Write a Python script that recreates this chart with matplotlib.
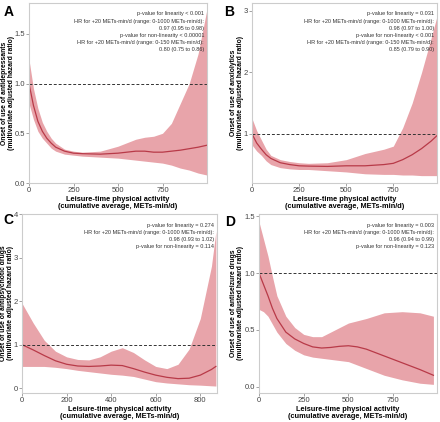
import numpy as np
import matplotlib
matplotlib.use('Agg')
import matplotlib.pyplot as plt

plt.rcParams['font.family'] = ['Liberation Sans', 'DejaVu Sans']

W, H = 440, 422

# panel A - antidepressants
a_x = [0, 25, 50, 75, 100, 125, 150, 200, 250, 300, 400, 500, 600, 650, 700, 750, 800, 850, 900, 950, 1000]
a_hr = [1.0, 0.78, 0.62, 0.52, 0.45, 0.40, 0.36, 0.32, 0.30, 0.295, 0.29, 0.30, 0.32, 0.32, 0.31, 0.31, 0.32, 0.33, 0.345, 0.36, 0.38]
a_lo = [0.80, 0.64, 0.52, 0.45, 0.40, 0.35, 0.32, 0.29, 0.28, 0.27, 0.26, 0.25, 0.23, 0.22, 0.21, 0.20, 0.18, 0.15, 0.13, 0.10, 0.08]
a_hi = [1.24, 0.95, 0.75, 0.61, 0.52, 0.45, 0.40, 0.34, 0.32, 0.31, 0.32, 0.37, 0.44, 0.46, 0.47, 0.50, 0.60, 0.80, 1.00, 1.30, 1.75]

# panel B - anxiolytics
b_x = [0, 25, 50, 75, 100, 150, 200, 250, 300, 400, 500, 600, 700, 750, 800, 850, 900, 950, 985]
b_hr = [1.0, 0.85, 0.75, 0.66, 0.60, 0.53, 0.50, 0.48, 0.475, 0.47, 0.48, 0.48, 0.50, 0.52, 0.58, 0.66, 0.76, 0.88, 0.98]
b_lo = [0.82, 0.72, 0.65, 0.56, 0.50, 0.45, 0.43, 0.42, 0.42, 0.40, 0.38, 0.35, 0.34, 0.34, 0.33, 0.33, 0.32, 0.32, 0.32]
b_hi = [1.25, 1.05, 0.90, 0.75, 0.65, 0.58, 0.55, 0.53, 0.52, 0.53, 0.58, 0.68, 0.75, 0.80, 1.10, 1.50, 2.00, 2.55, 2.95]

# panel C - antipsychotic drugs
c_x = [0, 50, 100, 150, 200, 250, 300, 350, 400, 450, 500, 550, 600, 650, 700, 750, 800, 850, 870]
c_hr = [1.0, 0.88, 0.75, 0.63, 0.55, 0.51, 0.50, 0.51, 0.53, 0.52, 0.45, 0.37, 0.30, 0.25, 0.22, 0.23, 0.30, 0.43, 0.50]
c_lo = [0.50, 0.50, 0.50, 0.48, 0.45, 0.41, 0.38, 0.35, 0.32, 0.30, 0.27, 0.21, 0.15, 0.12, 0.10, 0.08, 0.07, 0.055, 0.05]
c_hi = [1.95, 1.50, 1.10, 0.85, 0.72, 0.66, 0.65, 0.72, 0.85, 0.93, 0.82, 0.65, 0.50, 0.45, 0.55, 0.90, 1.60, 2.80, 3.60]

# panel D - antiseizure drugs
d_x = [0, 25, 50, 75, 100, 150, 200, 250, 300, 350, 400, 450, 500, 550, 600, 700, 800, 900, 975]
d_hr = [1.0, 0.90, 0.80, 0.69, 0.60, 0.48, 0.42, 0.38, 0.35, 0.34, 0.345, 0.355, 0.36, 0.35, 0.33, 0.27, 0.21, 0.15, 0.10]
d_lo = [0.68, 0.66, 0.62, 0.55, 0.48, 0.38, 0.32, 0.28, 0.26, 0.25, 0.24, 0.23, 0.22, 0.19, 0.16, 0.10, 0.06, 0.03, 0.02]
d_hi = [1.45, 1.30, 1.15, 0.97, 0.80, 0.62, 0.52, 0.46, 0.44, 0.44, 0.48, 0.52, 0.56, 0.58, 0.60, 0.65, 0.66, 0.65, 0.62]

letters = ['A', 'B', 'C', 'D']
drugs = ['antidepressants', 'anxiolytics', 'antipsychotic drugs', 'antiseizure drugs']
notes = [
    ['p-value for linearity < 0.001',
     'HR for +20 METs-min/d (range: 0-1000 METs-min/d):',
     '0.97 (0.95 to 0.98)',
     'p-value for non-linearity < 0.00001',
     'HR for +20 METs-min/d (range: 0-150 METs-min/d):',
     '0.80 (0.75 to 0.86)'],
    ['p-value for linearity = 0.031',
     'HR for +20 METs-min/d (range: 0-1000 METs-min/d):',
     '0.98 (0.97 to 1.00)',
     'p-value for non-linearity < 0.001',
     'HR for +20 METs-min/d (range: 0-150 METs-min/d):',
     '0.85 (0.79 to 0.90)'],
    ['p-value for linearity = 0.274',
     'HR for +20 METs-min/d (range: 0-1000 METs-min/d):',
     '0.98 (0.93 to 1.02)',
     'p-value for non-linearity = 0.114'],
    ['p-value for linearity = 0.003',
     'HR for +20 METs-min/d (range: 0-1000 METs-min/d):',
     '0.96 (0.94 to 0.99)',
     'p-value for non-linearity = 0.123'],
]
data = [(a_x, a_hr, a_lo, a_hi), (b_x, b_hr, b_lo, b_hi),
        (c_x, c_hr, c_lo, c_hi), (d_x, d_hr, d_lo, d_hi)]

# pixel boxes: left, right, top, bottom
boxes = [(29, 207, 3, 183), (252, 437, 3, 183), (22, 217, 214, 393), (259, 437, 214, 393)]
xlims = [(0, 1000), (0, 982), (0, 875), (0, 995)]
ylims = [(0, 1.81), (0.2, 3.13), (-0.11, 4.0), (-0.056, 1.52)]
yticks = [[0.0, 0.5, 1.0, 1.5], [1, 2, 3], [0, 1, 2, 3, 4], [0.0, 0.5, 1.0, 1.5]]
ytl = [['0.0', '0.5', '1.0', '1.5'], ['1', '2', '3'], ['0', '1', '2', '3', '4'], ['0.0', '0.5', '1.0', '1.5']]
xticks = [[0, 250, 500, 750], [0, 250, 500, 750], [0, 200, 400, 600, 800], [0, 250, 500, 750]]
letter_pos = [(4, 12), (224, 12), (3, 220), (225, 222)]
ylab_x = [8.5, 237, 7.5, 237]

fill_c = '#e8a4aa'
line_c = '#b83a48'
grey = '#7f7f7f'

fig = plt.figure(figsize=(W / 100, H / 100), dpi=100)

for i in range(4):
    l, r, t, b = boxes[i]
    ax = fig.add_axes([l / W, 1 - b / H, (r - l) / W, (b - t) / H])
    x, hr, lo, hi = data[i]
    ax.fill_between(x, lo, hi, color=fill_c, lw=0)
    ax.plot(x, hr, color=line_c, lw=0.9)
    ax.axhline(1.0, color='#333333', ls=(0, (3, 2)), lw=0.7)
    ax.set_xlim(*xlims[i])
    ax.set_ylim(*ylims[i])
    ax.set_xticks(xticks[i])
    ax.set_yticks(yticks[i])
    ax.set_yticklabels(ytl[i])
    ax.tick_params(labelsize=5.5, length=2, width=0.5, color=grey, labelcolor='#444444', pad=1)
    for s in ax.spines.values():
        s.set_color('#cccccc')
        s.set_linewidth(0.8)
    ax.set_xlabel('Leisure-time physical activity\n(cumulative average, METs-min/d)',
                  fontsize=5.3, fontweight='bold', labelpad=1.5, linespacing=1.05)
    fig.text(ylab_x[i] / W, 1 - (t + b) / 2 / H,
             'Onset of use of ' + drugs[i] + '\n(multivariate adjusted hazard ratio)',
             rotation=90, ha='center', va='center', multialignment='center',
             fontsize=4.9, fontweight='bold', linespacing=1.0)
    for k, line in enumerate(notes[i]):
        fig.text((r - 3) / W, 1 - (t + 11 + k * 7.1) / H, line, fontsize=4.0,
                 ha='right', va='center', color='#333333')
    lx, ly = letter_pos[i]
    fig.text(lx / W, 1 - ly / H, letters[i], fontsize=10,
             fontweight='bold', ha='left', va='center')

fig.savefig('out.png', dpi=100)
